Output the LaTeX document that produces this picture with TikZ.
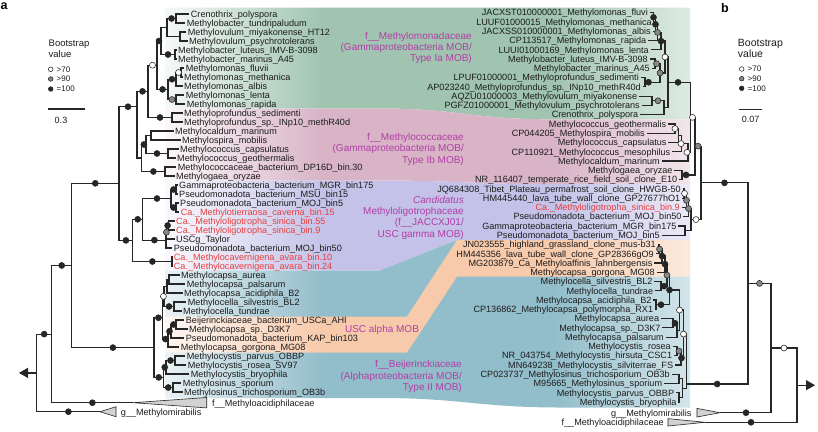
\documentclass[tikz,border=0pt]{standalone}
\usepackage{fontspec}
\setmainfont{Liberation Sans}
\usetikzlibrary{arrows.meta}
\definecolor{treecol}{RGB}{38,38,38}
\definecolor{labcol}{RGB}{28,28,28}
\definecolor{labred}{RGB}{232,62,62}
\definecolor{magcol}{RGB}{178,62,168}
\definecolor{dotgray}{RGB}{135,135,135}
\definecolor{bgreen}{RGB}{160,196,176}
\definecolor{bpink}{RGB}{216,180,198}
\definecolor{blav}{RGB}{196,194,232}
\definecolor{bteal}{RGB}{146,189,202}
\definecolor{borange}{RGB}{247,202,172}
\colorlet{bgreenL}{bgreen!35!white}\colorlet{bgreenS}{bgreen!10!white}
\colorlet{bpinkL}{bpink!35!white}\colorlet{bpinkS}{bpink!10!white}
\colorlet{blavL}{blav!35!white}\colorlet{blavS}{blav!10!white}
\colorlet{btealL}{bteal!40!white}\colorlet{btealS}{bteal!20!white}
\colorlet{borangeL}{borange!40!white}\colorlet{borangeS}{borange!15!white}
\pgfdeclarehorizontalshading{shgreen}{100bp}{color(0bp)=(bgreenS); color(25bp)=(bgreenS); color(40bp)=(bgreen); color(62bp)=(bgreen); color(75bp)=(bgreenL); color(100bp)=(bgreenL)}
\pgfdeclarehorizontalshading{shpink}{100bp}{color(0bp)=(bpinkS); color(25bp)=(bpinkS); color(40bp)=(bpink); color(62bp)=(bpink); color(75bp)=(bpinkL); color(100bp)=(bpinkL)}
\pgfdeclarehorizontalshading{shlav}{100bp}{color(0bp)=(blavS); color(25bp)=(blavS); color(40bp)=(blav); color(62bp)=(blav); color(75bp)=(blavL); color(100bp)=(blavL)}
\pgfdeclarehorizontalshading{shteal}{100bp}{color(0bp)=(btealS); color(25bp)=(btealS); color(40bp)=(bteal); color(62bp)=(bteal); color(75bp)=(btealL); color(100bp)=(btealL)}
\pgfdeclarehorizontalshading{shorange}{100bp}{color(0bp)=(borangeS); color(25bp)=(borangeS); color(40bp)=(borange); color(62bp)=(borange); color(75bp)=(borangeL); color(100bp)=(borangeL)}
\tikzset{
  tree/.style={draw=treecol, line width=1.2pt},
  lab/.style={font=\fontsize{9.1}{9}\selectfont, text=labcol, inner sep=0pt, text height=6.6pt, text depth=0pt},
  dotb/.style={circle, inner sep=0pt, minimum size=6pt, draw=treecol, line width=0.55pt, fill=treecol},
  dotg/.style={dotb, fill=dotgray},
  dotw/.style={dotb, fill=white},
  bandlabel/.style={font=\fontsize{10}{11.3}\selectfont, text=magcol, align=right, inner sep=0pt},
  tri/.style={draw=treecol, line width=0.6pt, fill=gray!35},
  legtext/.style={font=\fontsize{8}{9}\selectfont, text=labcol, inner sep=0pt, anchor=west},
}
\begin{document}
\begin{tikzpicture}[x=1pt,y=-1pt]
\useasboundingbox (0,0) rectangle (818,431);
\fill[white] (0,0) rectangle (818,431);
% ---------------- bands ----------------
\shade[shading=shgreen] (165,7.5) -- (690,7.5) -- (690,119.3) -- (550,119.3) .. controls (470,119.3) and (460,108.5) .. (380,108.5) -- (165,108.5) -- cycle;
\shade[shading=shpink] (165,108.5) -- (380,108.5) .. controls (460,108.5) and (470,119.3) .. (550,119.3) -- (690,119.3) -- (690,184.2) -- (550,184.2) .. controls (470,184.2) and (460,180.5) .. (380,180.5) -- (165,180.5) -- cycle;
\shade[shading=shlav] (165,180.5) -- (380,180.5) .. controls (460,180.5) and (470,184.2) .. (550,184.2) -- (690,184.2) -- (690,240) -- (457,240) -- (380,270.5) -- (165,270.5) -- cycle;
\shade[shading=shteal] (165,270.5) -- (380,270.5) -- (457,240) -- (690,240) -- (690,407.5) -- (560,407.5) .. controls (480,407.5) and (460,398) .. (380,398) -- (165,398) -- cycle;
\shade[shading=shorange] (165,316.5) -- (407,316.5) -- (457,240) -- (690,240) -- (690,276.7) -- (457,276.7) -- (407,352.5) -- (165,352.5) -- cycle;
% band labels
\node[bandlabel, anchor=east] (bl1) at (472,48) {f\_\_Methylomonadaceae\\(Gammaproteobacteria MOB/\\Type Ia MOB)};
\node[bandlabel, anchor=east] (bl2) at (464,149.3) {f\_\_Methylococcaceae\\(Gammaproteobacteria MOB/\\Type Ib MOB)};
\node[bandlabel, anchor=east] (bl3) at (464,217.5) {\textit{Candidatus}\\Methyloligotrophaceae\\(f\_\_JACCXJ01/\\USC gamma MOB)};
\node[bandlabel, anchor=center] (bl4) at (382,330) {USC alpha MOB};
\node[bandlabel, anchor=east] (bl5) at (462,376.7) {f\_\_Beijerinckiaceae\\(Alphaproteobacteria MOB/\\Type II MOB)};
% ---------------- panel labels & legends ----------------
\node[font=\bfseries\fontsize{12.5}{12}\selectfont, anchor=north west, inner sep=0pt] (pa) at (0.5,2.5) {a};
\node[font=\bfseries\fontsize{12.5}{12}\selectfont, anchor=north west, inner sep=0pt] (pb) at (721,3.3) {b};
\node[font=\fontsize{9.5}{11.3}\selectfont, text=labcol, align=left, anchor=west, inner sep=0pt] (legL) at (48.5,48.5) {Bootstrap\\value};
\node[dotw, minimum size=4.6pt] (lw1) at (50.7,69.3) {};
\node[dotg, minimum size=4.6pt] (lg1) at (50.7,79) {};
\node[dotb, minimum size=4.6pt] (lb1) at (50.7,89) {};
\node[legtext] (tw1) at (56.5,69.3) {>70};
\node[legtext] (tg1) at (56.5,79) {>90};
\node[legtext] (tb1) at (56.5,89) {=100};
\coordinate (sbL1) at (48.3,109); \coordinate (sbL2) at (85,109);
\draw[tree] (sbL1) -- (sbL2);
\node[font=\fontsize{9}{9}\selectfont, text=labcol, inner sep=0pt] (sbLt) at (61,120.5) {0.3};
\node[font=\fontsize{10.5}{11.3}\selectfont, text=labcol, align=left, anchor=west, inner sep=0pt] (legR) at (737.7,48.5) {Bootstrap\\value};
\node[dotw, minimum size=4.6pt] (lw2) at (741.7,69) {};
\node[dotg, minimum size=4.6pt] (lg2) at (741.7,78.7) {};
\node[dotb, minimum size=4.6pt] (lb2) at (741.7,88.3) {};
\node[legtext] (tw2) at (747.5,69) {>70};
\node[legtext] (tg2) at (747.5,78.7) {>90};
\node[legtext] (tb2) at (747.5,88.3) {=100};
\coordinate (sbR1) at (739.3,109.3); \coordinate (sbR2) at (762,109.3);
\draw[tree] (sbR1) -- (sbR2);
\node[font=\fontsize{9}{9}\selectfont, text=labcol, inner sep=0pt] (sbRt) at (750.5,119.5) {0.07};
% ---------------- left labels ----------------
\foreach \i/\x/\t in {
1/190.7/Crenothrix\_polyspora,
2/186.7/Methylobacter\_tundripaludum,
3/187.7/Methylovulum\_miyakonense\_HT12,
4/189/Methylovulum\_psychrotolerans,
5/178/Methylobacter\_luteus\_IMV-B-3098,
6/178/Methylobacter\_marinus\_A45,
7/185.7/Methylomonas\_fluvii,
8/184/Methylomonas\_methanica,
9/184/Methylomonas\_albis,
10/185.7/Methylomonas\_lenta,
11/186.7/Methylomonas\_rapida,
12/184/Methyloprofundus\_sedimenti,
13/184/Methyloprofundus\_sp.\_INp10\_methR40d,
14/175/Methylocaldum\_marinum,
15/182/Methylospira\_mobilis,
16/180/Methylococcus\_capsulatus,
17/177/Methylococcus\_geothermalis,
18/177.7/Methylococcaceae\_bacterium\_DP16D\_bin.30,
19/176/Methylogaea\_oryzae,
20/179/Gammaproteobacteria\_bacterium\_MGR\_bin175,
21/179/Pseudomonadota\_bacterium\_MSU\_bin15,
22/180/Pseudomonadota\_bacterium\_MOJ\_bin5,
23/180.7/{\color{labred}Ca.\_Methylotierraosa\_caverna\_bin.15},
24/176/{\color{labred}Ca.\_Methyloligotropha\_sinica\_bin.55},
25/176/{\color{labred}Ca.\_Methyloligotropha\_sinica\_bin.9},
26/176/USCg\_Taylor,
27/173.7/Pseudomonadota\_bacterium\_MOJ\_bin50,
28/173.7/{\color{labred}Ca.\_Methylocavernigena\_avara\_bin.10},
29/173.7/{\color{labred}Ca.\_Methylocavernigena\_avara\_bin.24},
30/181/Methylocapsa\_aurea,
31/186.7/Methylocapsa\_palsarum,
32/184/Methylocapsa\_acidiphila\_B2,
33/187.7/Methylocella\_silvestris\_BL2,
34/183/Methylocella\_tundrae,
35/185.7/Beijerinckiaceae\_bacterium\_USCa\_AHI,
36/189/Methylocapsa\_sp.\_D3K7,
37/185.7/Pseudomonadota\_bacterium\_KAP\_bin103,
38/180.7/Methylocapsa\_gorgona\_MG08,
39/186.7/Methylocystis\_parvus\_OBBP,
40/187.7/Methylocystis\_rosea\_SV97,
41/190.7/Methylocystis\_bryophila,
42/182.7/Methylosinus\_sporium,
43/184/Methylosinus\_trichosporium\_OB3b}
{\node[lab,anchor=west] (L\i) at (\x,{14+9*(\i-1)}) {\t};
 \coordinate (e\i) at ([xshift=-1.5pt]L\i.west);}
\node[lab, anchor=west] (Laci) at (212,402.7) {f\_\_Methyloacidiphilaceae};
\node[lab, anchor=west] (Lmir) at (120.7,411.7) {g\_\_Methylomirabilis};
% ---------------- right labels ----------------
\foreach \i/\x/\t in {
0/648/JACXST010000001\_Methylomonas\_fluvi,
1/652/LUUF01000015\_Methylomonas\_methanica,
2/651/JACXSS010000001\_Methylomonas\_albis,
3/646.5/CP113517\_Methylomonas\_rapida,
4/649/LUUI01000169\_Methylomonas\_lenta,
5/648/Methylobacter\_luteus\_IMV-B-3098,
6/650/Methylobacter\_marinus\_A45,
7/639/LPUF01000001\_Methyloprofundus\_sedimenti,
8/641/AP023240\_Methyloprofundus\_sp.\_INp10\_methR40d,
9/637.3/AQZU01000003\_Methylovulum\_miyakonense,
10/640/PGFZ01000001\_Methylovulum\_psychrotolerans,
11/638.5/Crenothrix\_polyspora,
12/666.5/Methylococcus\_geothermalis,
13/645/CP044205\_Methylospira\_mobilis,
14/666.7/Methylococcus\_capsulatus,
15/670.5/CP110921\_Methylococcus\_mesophilus,
16/660/Methylocaldum\_marinum,
17/672.7/Methylogaea\_oryzae,
18/677.5/NR\_116407\_temperate\_rice\_field\_soil\_clone\_E10,
19/681/JQ684308\_Tibet\_Plateau\_permafrost\_soil\_clone\_HWGB-50,
20/680.5/HM445440\_lava\_tube\_wall\_clone\_GP27677hO1,
21/680/{\color{labred}Ca.\_Methyloligotropha\_sinica\_bin.9},
22/681.7/Pseudomonadota\_bacterium\_MOJ\_bin50,
23/676.7/Gammaproteobacteria\_bacterium\_MGR\_bin175,
24/660/Pseudomonadota\_bacterium\_MOJ\_bin5,
25/656/JN023555\_highland\_grassland\_clone\_mus-b31,
26/654/HM445356\_lava\_tube\_wall\_clone\_GP28366gO9,
27/652.7/MG203879\_Ca\_Methyloaffinis\_lahnbergensis,
28/655/Methylocapsa\_gorgona\_MG08,
29/652.7/Methylocella\_silvestris\_BL2,
30/653.3/Methylocella\_tundrae,
31/651.7/Methylocapsa\_acidiphila\_B2,
32/653.3/CP136862\_Methylocapsa\_polymorpha\_RX1,
33/659.3/Methylocapsa\_aurea,
34/660.7/Methylocapsa\_sp.\_D3K7,
35/664/Methylocapsa\_palsarum,
36/671/Methylocystis\_rosea,
37/672.3/NR\_043754\_Methylocystis\_hirsuta\_CSC1,
38/673.3/MN649238\_Methylocystis\_silviterrae\_FS,
39/670/CP023737\_Methylosinus\_trichosporium\_OB3b,
40/662.3/M95665\_Methylosinus\_sporium,
41/674.3/Methylocystis\_parvus\_OBBP,
42/676.7/Methylocystis\_bryophila}
{\node[lab,anchor=east] (R\i) at (\x,{12.7+9.27*\i}) {\t};
 \coordinate (f\i) at ([xshift=1.5pt]R\i.east);}
\node[lab, anchor=east] (Rmir) at (691.7,412.7) {g\_\_Methylomirabilis};
\node[lab, anchor=east] (Raci) at (664,422.3) {f\_\_Methyloacidiphilaceae};
% ---------------- left tree nodes ----------------
\coordinate (g1) at (176,18.5);   \coordinate (g2) at (180,36.5);
\coordinate (g3) at (167,27.5);   \coordinate (g4) at (175,54.5);
\coordinate (g5) at (161,41);     \coordinate (m1) at (181,72.5);
\coordinate (m2) at (176,79.25);  \coordinate (m3) at (176,99.5);
\coordinate (m4) at (168,89.4);   \coordinate (g6) at (157,65.2);
\coordinate (p1) at (172,117.5);  \coordinate (g7) at (148,91.35);
\coordinate (c1) at (151,135.5);  \coordinate (c2) at (168,153.5);
\coordinate (c3) at (146,144.5);  \coordinate (c4) at (165,171.5);
\coordinate (c5) at (141.7,158);  \coordinate (gm) at (137,106.7);
\coordinate (o1) at (176,189.5);  \coordinate (o2) at (176,207.5);
\coordinate (o3) at (171,198.5);  \coordinate (o4) at (168.5,225.5);
\coordinate (o5) at (166.8,232.25); \coordinate (o6) at (166,240.1);
\coordinate (o7) at (142.7,219.3); \coordinate (o8) at (172,261.5);
\coordinate (o9) at (132.7,240.4); \coordinate (G) at (119,183.3);
\coordinate (bap) at (169,279.5); \coordinate (b2) at (167,286.25);
\coordinate (bms) at (174,306.5); \coordinate (b3) at (164,296.4);
\coordinate (bbd) at (176,324.5); \coordinate (b4) at (171,331.25);
\coordinate (b5) at (168,339.1);  \coordinate (b6) at (162.7,317.75);
\coordinate (ypr) at (175,360.5); \coordinate (y2) at (166,367.25);
\coordinate (s1) at (173,387.5);  \coordinate (y3) at (163.4,377.4);
\coordinate (A) at (154,347.6);   \coordinate (P) at (71.7,265.45);
\coordinate (Q) at (51.7,334.1);  \coordinate (R) at (36.7,372.9);
\coordinate (aciL) at (133,402.7); \coordinate (mirL) at (100,411.7);
\coordinate (rootL) at (19,372.9);
% ---------------- right tree nodes ----------------
\coordinate (Br1) at (653.5,17.35); \coordinate (Br2) at (655.5,24.3);
\coordinate (Br3) at (657.5,32.4);  \coordinate (Br4) at (661,41.09);
\coordinate (Br5) at (655,63.69);   \coordinate (Br7) at (645,82.22);
\coordinate (Br6) at (660,72.96);   \coordinate (Br8) at (665,57.0);
\coordinate (Br9) at (652,100.77);  \coordinate (Br10) at (664,107.72);
\coordinate (Br11) at (668,82.36);
\coordinate (Bk1) at (675,128.58);  \coordinate (Bk2) at (678.5,135.53);
\coordinate (Bk3) at (681.5,143.64); \coordinate (Bk4) at (688,152.33);
\coordinate (BCa) at (690.5,117.35); \coordinate (BCb) at (682,174.93);
\coordinate (BC1) at (695,146.14);
\coordinate (Bq1) at (684,193.47);  \coordinate (Bq2) at (686.5,200.42);
\coordinate (Bq3) at (688.5,208.53); \coordinate (Bq4) at (685,230.55);
\coordinate (BC2) at (691,219.54);  \coordinate (BGm) at (701,182.84);
\coordinate (Bu1) at (659,249.09);  \coordinate (Bu2) at (662,256.04);
\coordinate (Bu3) at (665,264.15);  \coordinate (Bm1) at (661,286.17);
\coordinate (Bu4) at (667,275.16);  \coordinate (Bm3) at (656,304.71);
\coordinate (Bm2) at (669.5,289.94); \coordinate (Bm5) at (673,323.25);
\coordinate (Bm6) at (677,330.2);   \coordinate (Bm8) at (679.5,310.07);
\coordinate (Bc0) at (677,351.06);  \coordinate (Bc1) at (681,358.01);
\coordinate (BB2) at (683.5,334.04);
\coordinate (Bs1) at (679,378.87);  \coordinate (Bp1) at (679,397.41);
\coordinate (Bs2) at (682.5,388.14); \coordinate (BAl) at (686.5,384);
\coordinate (BY) at (748,283.42);   \coordinate (BX) at (771,348.06);
\coordinate (BR) at (797,385.18);
\coordinate (BmirR) at (720,412.7); \coordinate (BaciR) at (705,422.3);
\coordinate (rootR) at (815,385.18);
% ---------------- collapsed clades ----------------
\filldraw[tri] (mirL) -- (116,406.7) -- (116,416.7) -- cycle;
\filldraw[tri] (aciL) -- (206.7,397.5) -- (206.7,407.9) -- cycle;
\filldraw[tri] (BmirR) -- (697,408.4) -- (697,417) -- cycle;
\filldraw[tri] (BaciR) -- (668,418.6) -- (668,426) -- cycle;
% ---------------- edges ----------------
\foreach \p/\c in {g1/e1, g1/e2, g2/e3, g2/e4, g3/g1, g3/g2, g4/e5, g4/e6, g5/g3, g5/g4,
 m1/e7, m1/e8, m2/m1, m2/e9, m3/e10, m3/e11, m4/m2, m4/m3, g6/g5, g6/m4, p1/e12, p1/e13,
 g7/g6, g7/p1, c1/e14, c1/e15, c2/e16, c2/e17, c3/c1, c3/c2, c4/e18, c4/e19, c5/c3, c5/c4,
 gm/g7, gm/c5, o1/e20, o1/e21, o2/e22, o2/e23, o3/o1, o3/o2, o4/e24, o4/e25, o5/o4, o5/e26,
 o6/o5, o6/e27, o7/o3, o7/o6, o8/e28, o8/e29, o9/o7, o9/o8, G/gm, G/o9,
 bap/e30, bap/e31, b2/bap, b2/e32, bms/e33, bms/e34, b3/b2, b3/bms, bbd/e35, bbd/e36,
 b4/bbd, b4/e37, b5/b4, b5/e38, b6/b3, b6/b5, ypr/e39, ypr/e40, y2/ypr, y2/e41,
 s1/e42, s1/e43, y3/y2, y3/s1, A/b6, A/y3, P/G, P/A, Q/P, Q/aciL, R/Q, R/mirL,
 Br1/f0, Br1/f1, Br2/Br1, Br2/f2, Br3/Br2, Br3/f3, Br4/Br3, Br4/f4, Br5/f5, Br5/f6,
 Br7/f7, Br7/f8, Br6/Br5, Br6/Br7, Br8/Br4, Br8/Br6, Br9/f9, Br9/f10, Br10/Br9, Br10/f11,
 Br11/Br8, Br11/Br10, Bk1/f12, Bk1/f13, Bk2/Bk1, Bk2/f14, Bk3/Bk2, Bk3/f15, Bk4/Bk3, Bk4/f16,
 BCa/Br11, BCa/Bk4, BCb/f17, BCb/f18, BC1/BCa, BC1/BCb, Bq1/f19, Bq1/f20, Bq2/Bq1, Bq2/f21,
 Bq3/Bq2, Bq3/f22, Bq4/f23, Bq4/f24, BC2/Bq3, BC2/Bq4, BGm/BC1, BGm/BC2,
 Bu1/f25, Bu1/f26, Bu2/Bu1, Bu2/f27, Bu3/Bu2, Bu3/f28, Bm1/f29, Bm1/f30, Bu4/Bu3, Bu4/Bm1,
 Bm3/f31, Bm3/f32, Bm2/Bu4, Bm2/Bm3, Bm5/f33, Bm5/f34, Bm6/Bm5, Bm6/f35, Bm8/Bm2, Bm8/Bm6,
 Bc0/f36, Bc0/f37, Bc1/Bc0, Bc1/f38, BB2/Bm8, BB2/Bc1, Bs1/f39, Bs1/f40, Bp1/f41, Bp1/f42,
 Bs2/Bs1, Bs2/Bp1, BAl/BB2, BAl/Bs2, BY/BGm, BY/BAl, BX/BY, BX/BmirR, BR/BX, BR/BaciR}
 {\draw[tree] (\p) |- (\c);}
\draw[tree, -{Triangle[length=9pt,width=10pt]}] (R) -- (rootL);
\draw[tree, -{Triangle[length=9pt,width=10pt]}] (BR) -- (rootR);
% ---------------- bootstrap dots ----------------
\foreach \c/\s/\x in {g1/b/171.5, g4/b/168, g5/b/159, m1/w/178.5, m2/b/172, m3/g/172, m4/b/162.5,
 g6/w/152.5, p1/b/160, g7/b/142.5, gm/b/128, c2/b/157, c3/b/143.9, c4/b/153.4,
 o1/b/173.5, o2/b/173.5, o3/b/157, o4/b/167.6, o5/g/166.4, o6/b/154.4, o7/b/137.7,
 o8/b/152.4, o9/b/125.9, G/b/95.3, bms/b/169, b3/w/163.4, bbd/b/173.5, b4/b/169.5,
 b5/b/165.4, b6/b/158.4, ypr/b/170.5, y2/b/164.7, s1/b/168.2, y3/b/158.7, A/b/112.9,
 P/b/61.7, Q/b/44.2, aciL/b/92.4, mirL/b/68.4,
 Br1/b/653.5, Br2/b/655.5, Br3/g/657.5, Br4/b/661, Br5/g/656.5, Br7/b/648.5, Br6/g/660,
 Br8/w/665, Br9/g/658, Br11/b/678, Bk1/w/675, Bk3/w/681, Bk4/w/687, BCa/w/692.5,
 BCb/b/686, BC1/g/698, Bq1/w/684.5, Bq2/g/686.5, Bq3/g/688.5, BC2/w/696, BGm/b/724.5,
 Bu1/g/659.5, Bu2/b/662, Bu3/b/665, Bm1/b/664, Bu4/g/667, Bm3/b/661, Bm2/b/669.5,
 Bm5/b/675, Bm8/w/679.5, Bc0/g/679, Bc1/b/681.5, BB2/w/683.5, BAl/b/717.2, BY/g/759.5,
 BX/w/784, BmirR/b/746, BaciR/b/751}
 {\node[dot\s] at (\x,0 |- \c) {};}
\end{tikzpicture}
\end{document}
